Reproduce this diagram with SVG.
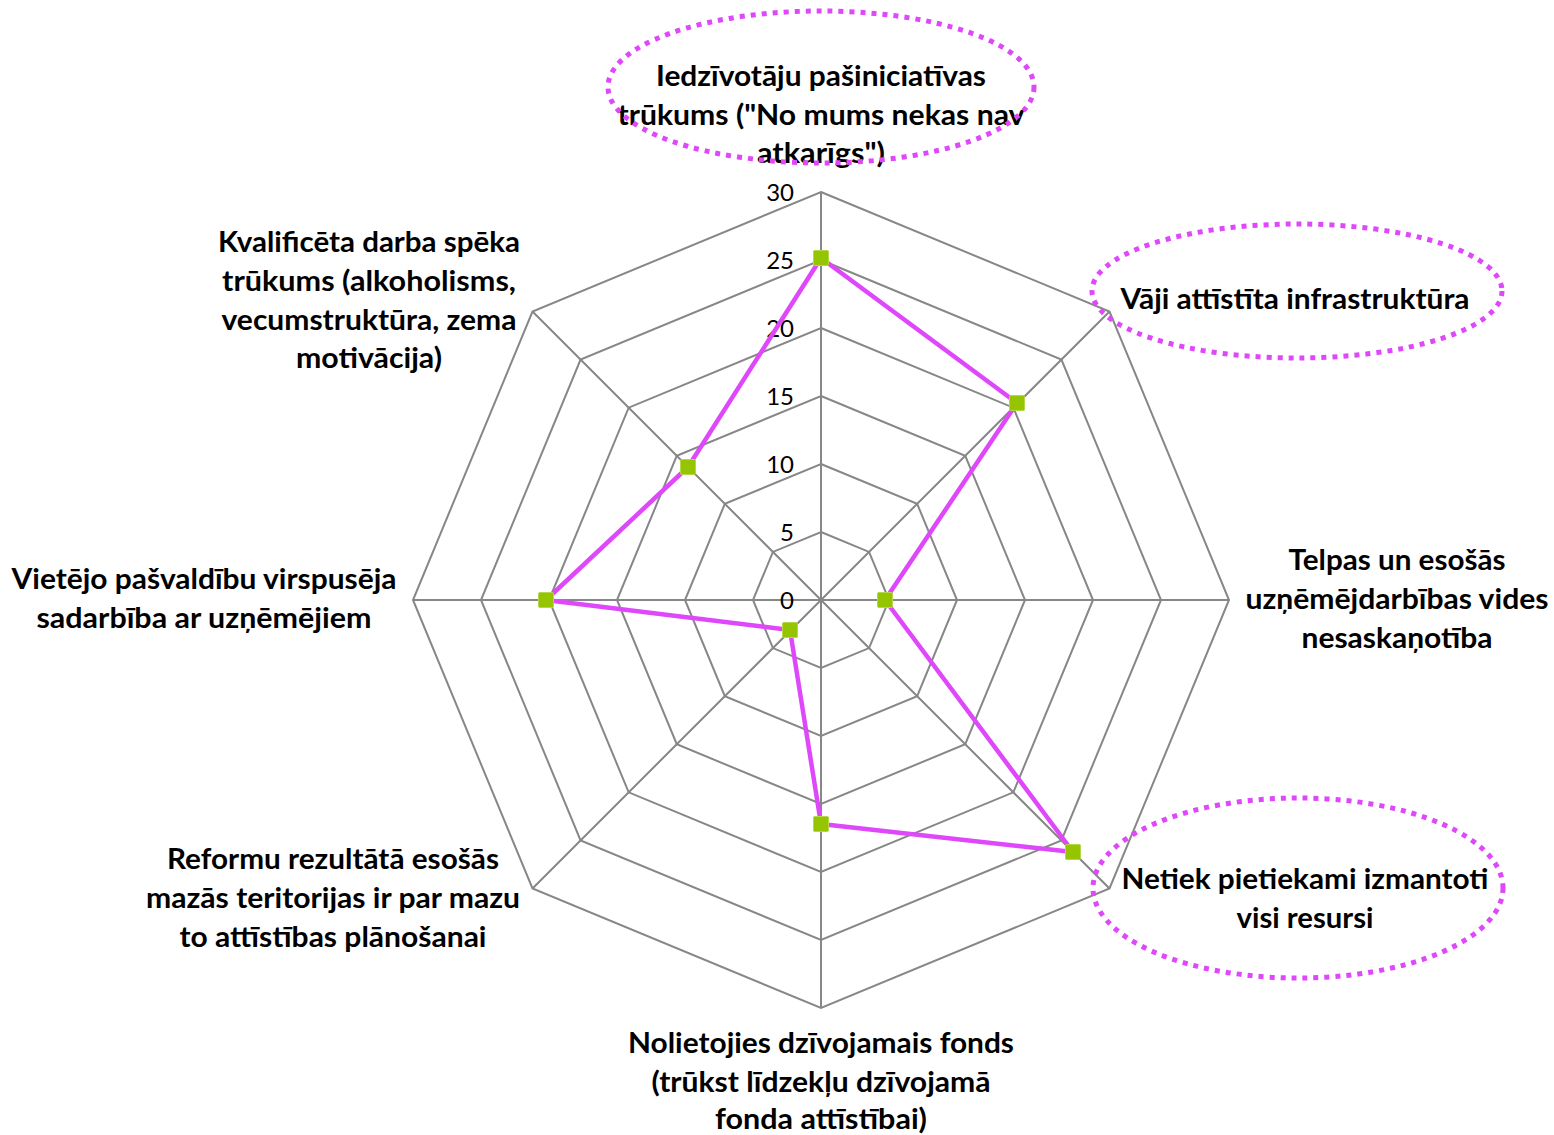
<svg xmlns="http://www.w3.org/2000/svg" width="1554" height="1135" viewBox="0 0 1554 1135">
<style>
.lbl{font-family:Lato,"Liberation Sans","Noto Sans",sans-serif;font-weight:bold;font-size:28px;fill:#000;text-anchor:middle}
.tick{font-family:Lato,"Liberation Sans",sans-serif;font-size:24px;fill:#000;text-anchor:end}
.grid{fill:none;stroke:#878787;stroke-width:2}
.series{fill:none;stroke:#DF47FA;stroke-width:4.5;stroke-linejoin:round}
.mk{fill:#95C500;stroke:#B5D84A;stroke-width:1}
.hl{fill:none;stroke:#DF47FA;stroke-width:5;stroke-dasharray:5 6}
</style>
<defs>
<rect id="m" x="-7.5" y="-7.5" width="15" height="15" rx="1"/>
</defs>
<rect width="1554" height="1135" fill="#fff"/>
<g id="grid">
<polygon class="grid" points="821,532 869.08,551.92 889,600 869.08,648.08 821,668 772.92,648.08 753,600 772.92,551.92"/>
<polygon class="grid" points="821,464 917.17,503.83 957,600 917.17,696.17 821,736 724.83,696.17 685,600 724.83,503.83"/>
<polygon class="grid" points="821,396 965.25,455.75 1025,600 965.25,744.25 821,804 676.75,744.25 617,600 676.75,455.75"/>
<polygon class="grid" points="821,328 1013.33,407.67 1093,600 1013.33,792.33 821,872 628.67,792.33 549,600 628.67,407.67"/>
<polygon class="grid" points="821,260 1061.42,359.58 1161,600 1061.42,840.42 821,940 580.58,840.42 481,600 580.58,359.58"/>
<polygon class="grid" points="821,192 1109.5,311.5 1229,600 1109.5,888.5 821,1008 532.5,888.5 413,600 532.5,311.5"/>
<path class="grid" d="M821,600L821,192M821,600L1109.5,311.5M821,600L1229,600M821,600L1109.5,888.5M821,600L821,1008M821,600L532.5,888.5M821,600L413,600M821,600L532.5,311.5"/>
</g>
<g id="ticks">
<text class="tick" x="794" y="201">30</text>
<text class="tick" x="794" y="269">25</text>
<text class="tick" x="794" y="337">20</text>
<text class="tick" x="794" y="405">15</text>
<text class="tick" x="794" y="473">10</text>
<text class="tick" x="794" y="541">5</text>
<text class="tick" x="794" y="609">0</text>
</g>
<g id="connectors">
<polygon class="series" points="821,258 1017,403 885,600 1073,852 821,824 790,630 546,600 688,467"/>
</g>
<g id="markers">
<use href="#m" class="mk" x="821" y="258"/>
<use href="#m" class="mk" x="1017" y="403"/>
<use href="#m" class="mk" x="885" y="600"/>
<use href="#m" class="mk" x="1073" y="852"/>
<use href="#m" class="mk" x="821" y="824"/>
<use href="#m" class="mk" x="790" y="630"/>
<use href="#m" class="mk" x="546" y="600"/>
<use href="#m" class="mk" x="688" y="467"/>
</g>
<g id="node-top">
<text class="lbl" x="821" y="86" textLength="330" lengthAdjust="spacingAndGlyphs">Iedzīvotāju pašiniciatīvas</text>
<text class="lbl" x="821" y="125" textLength="407" lengthAdjust="spacingAndGlyphs">trūkums ("No mums nekas nav</text>
<text class="lbl" x="821" y="163" textLength="128" lengthAdjust="spacingAndGlyphs">atkarīgs")</text>
</g>
<g id="node-upper-right">
<text class="lbl" x="1295" y="309" textLength="349" lengthAdjust="spacingAndGlyphs">Vāji attīstīta infrastruktūra</text>
</g>
<g id="node-right">
<text class="lbl" x="1397" y="570" textLength="217" lengthAdjust="spacingAndGlyphs">Telpas un esošās</text>
<text class="lbl" x="1397" y="609" textLength="303" lengthAdjust="spacingAndGlyphs">uzņēmējdarbības vides</text>
<text class="lbl" x="1397" y="648" textLength="191" lengthAdjust="spacingAndGlyphs">nesaskaņotība</text>
</g>
<g id="node-lower-right">
<text class="lbl" x="1305" y="889" textLength="367" lengthAdjust="spacingAndGlyphs">Netiek pietiekami izmantoti</text>
<text class="lbl" x="1305" y="928" textLength="137" lengthAdjust="spacingAndGlyphs">visi resursi</text>
</g>
<g id="node-bottom">
<text class="lbl" x="821" y="1053" textLength="386" lengthAdjust="spacingAndGlyphs">Nolietojies dzīvojamais fonds</text>
<text class="lbl" x="821" y="1092" textLength="339" lengthAdjust="spacingAndGlyphs">(trūkst līdzekļu dzīvojamā</text>
<text class="lbl" x="821" y="1129" textLength="212" lengthAdjust="spacingAndGlyphs">fonda attīstībai)</text>
</g>
<g id="node-lower-left">
<text class="lbl" x="333" y="869" textLength="332" lengthAdjust="spacingAndGlyphs">Reformu rezultātā esošās</text>
<text class="lbl" x="333" y="908" textLength="374" lengthAdjust="spacingAndGlyphs">mazās teritorijas ir par mazu</text>
<text class="lbl" x="333" y="947" textLength="307" lengthAdjust="spacingAndGlyphs">to attīstības plānošanai</text>
</g>
<g id="node-left">
<text class="lbl" x="204" y="589" textLength="385" lengthAdjust="spacingAndGlyphs">Vietējo pašvaldību virspusēja</text>
<text class="lbl" x="204" y="628" textLength="335" lengthAdjust="spacingAndGlyphs">sadarbība ar uzņēmējiem</text>
</g>
<g id="node-upper-left">
<text class="lbl" x="369" y="252" textLength="302" lengthAdjust="spacingAndGlyphs">Kvalificēta darba spēka</text>
<text class="lbl" x="369" y="291" textLength="294" lengthAdjust="spacingAndGlyphs">trūkums (alkoholisms,</text>
<text class="lbl" x="369" y="330" textLength="295" lengthAdjust="spacingAndGlyphs">vecumstruktūra, zema</text>
<text class="lbl" x="369" y="368" textLength="146" lengthAdjust="spacingAndGlyphs">motivācija)</text>
</g>
<g id="highlights">
<ellipse class="hl" cx="821" cy="87" rx="213" ry="76"/>
<ellipse class="hl" cx="1297" cy="291" rx="205" ry="67"/>
<ellipse class="hl" cx="1298" cy="888" rx="205" ry="90"/>
</g>
</svg>
